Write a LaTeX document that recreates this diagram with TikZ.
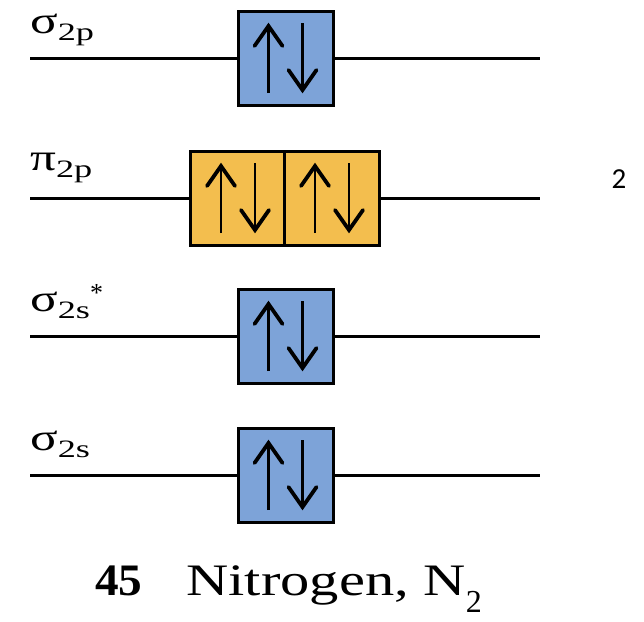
\documentclass[tikz,border=0pt]{standalone}
\usepackage{fontspec}
\usepackage{graphicx}
\setmainfont{Liberation Serif}
\newfontfamily\numfont{Carlito}
\definecolor{mblue}{RGB}{125,163,216}
\definecolor{morange}{RGB}{243,190,78}
\newcommand{\mainsym}[1]{\scalebox{1.35}[1]{\fontsize{38}{38}\selectfont #1}}
\newcommand{\subsym}[1]{\raisebox{-7pt}{\scalebox{1.45}[1]{\fontsize{25}{25}\selectfont #1}}}
\begin{document}
\begin{tikzpicture}[x=1pt,y=-1pt,
  level/.style={line width=3pt},
  orb/.style={draw=black,line width=3pt,minimum width=95pt,minimum height=94pt,inner sep=0pt,outer sep=0pt},
  shaft/.style={line width=2.6pt},
  head/.style={line width=3.8pt,line cap=round,line join=miter},
  lbl/.style={anchor=base west,inner sep=0pt},
  updown/.pic={
    \draw[shaft] (-17,35) -- (-17,-31);
    \draw[head] (-31,-12) -- (-17,-32) -- (-3,-12);
    \draw[shaft] (17,-35) -- (17,31);
    \draw[head] (3,12) -- (17,32) -- (31,12);
  }]
\useasboundingbox (0,0) rectangle (644,621);
% sigma 2p
\node[orb,fill=mblue] (b1) at (285.5,58) {};
\coordinate (l1) at (30,58); \coordinate (r1) at (540,58);
\draw[level] (l1) -- (b1.west); \draw[level] (b1.east) -- (r1);
\pic at (b1.center) {updown};
\node[lbl] (t1) at (30,33) {\mainsym{σ}\subsym{2p}};
% pi 2p
\node[orb,fill=morange] (b2a) at (238,198) {};
\node[orb,fill=morange] (b2b) at (332,198) {};
\coordinate (l2) at (30,198); \coordinate (r2) at (540,198);
\draw[level] (l2) -- (b2a.west); \draw[level] (b2b.east) -- (r2);
\pic at (b2a.center) {updown};
\pic at (b2b.center) {updown};
\node[lbl] (t2) at (30,170) {\mainsym{π}\subsym{2p}};
\node[anchor=base,inner sep=0pt] (n2) at (619,188) {\numfont\fontsize{29}{29}\selectfont 2};
% sigma 2s*
\node[orb,fill=mblue] (b3) at (285.5,336) {};
\coordinate (l3) at (30,336); \coordinate (r3) at (540,336);
\draw[level] (l3) -- (b3.west); \draw[level] (b3.east) -- (r3);
\pic at (b3.center) {updown};
\node[lbl] (t3) at (30,311) {\mainsym{σ}\subsym{2s}\raisebox{10pt}{\fontsize{26}{26}\selectfont *}};
% sigma 2s
\node[orb,fill=mblue] (b4) at (285.5,475) {};
\coordinate (l4) at (30,475); \coordinate (r4) at (540,475);
\draw[level] (l4) -- (b4.west); \draw[level] (b4.east) -- (r4);
\pic at (b4.center) {updown};
\node[lbl] (t4) at (30,450) {\mainsym{σ}\subsym{2s}};
% caption
\node[lbl] (cap) at (95,595) {\fontsize{45}{45}\selectfont\scalebox{1.05}[1]{\textbf{45}}\hspace{44pt}\scalebox{1.3}[1]{Nitrogen, N}\raisebox{-17pt}{\fontsize{32}{32}\selectfont 2}};
\end{tikzpicture}
\end{document}
